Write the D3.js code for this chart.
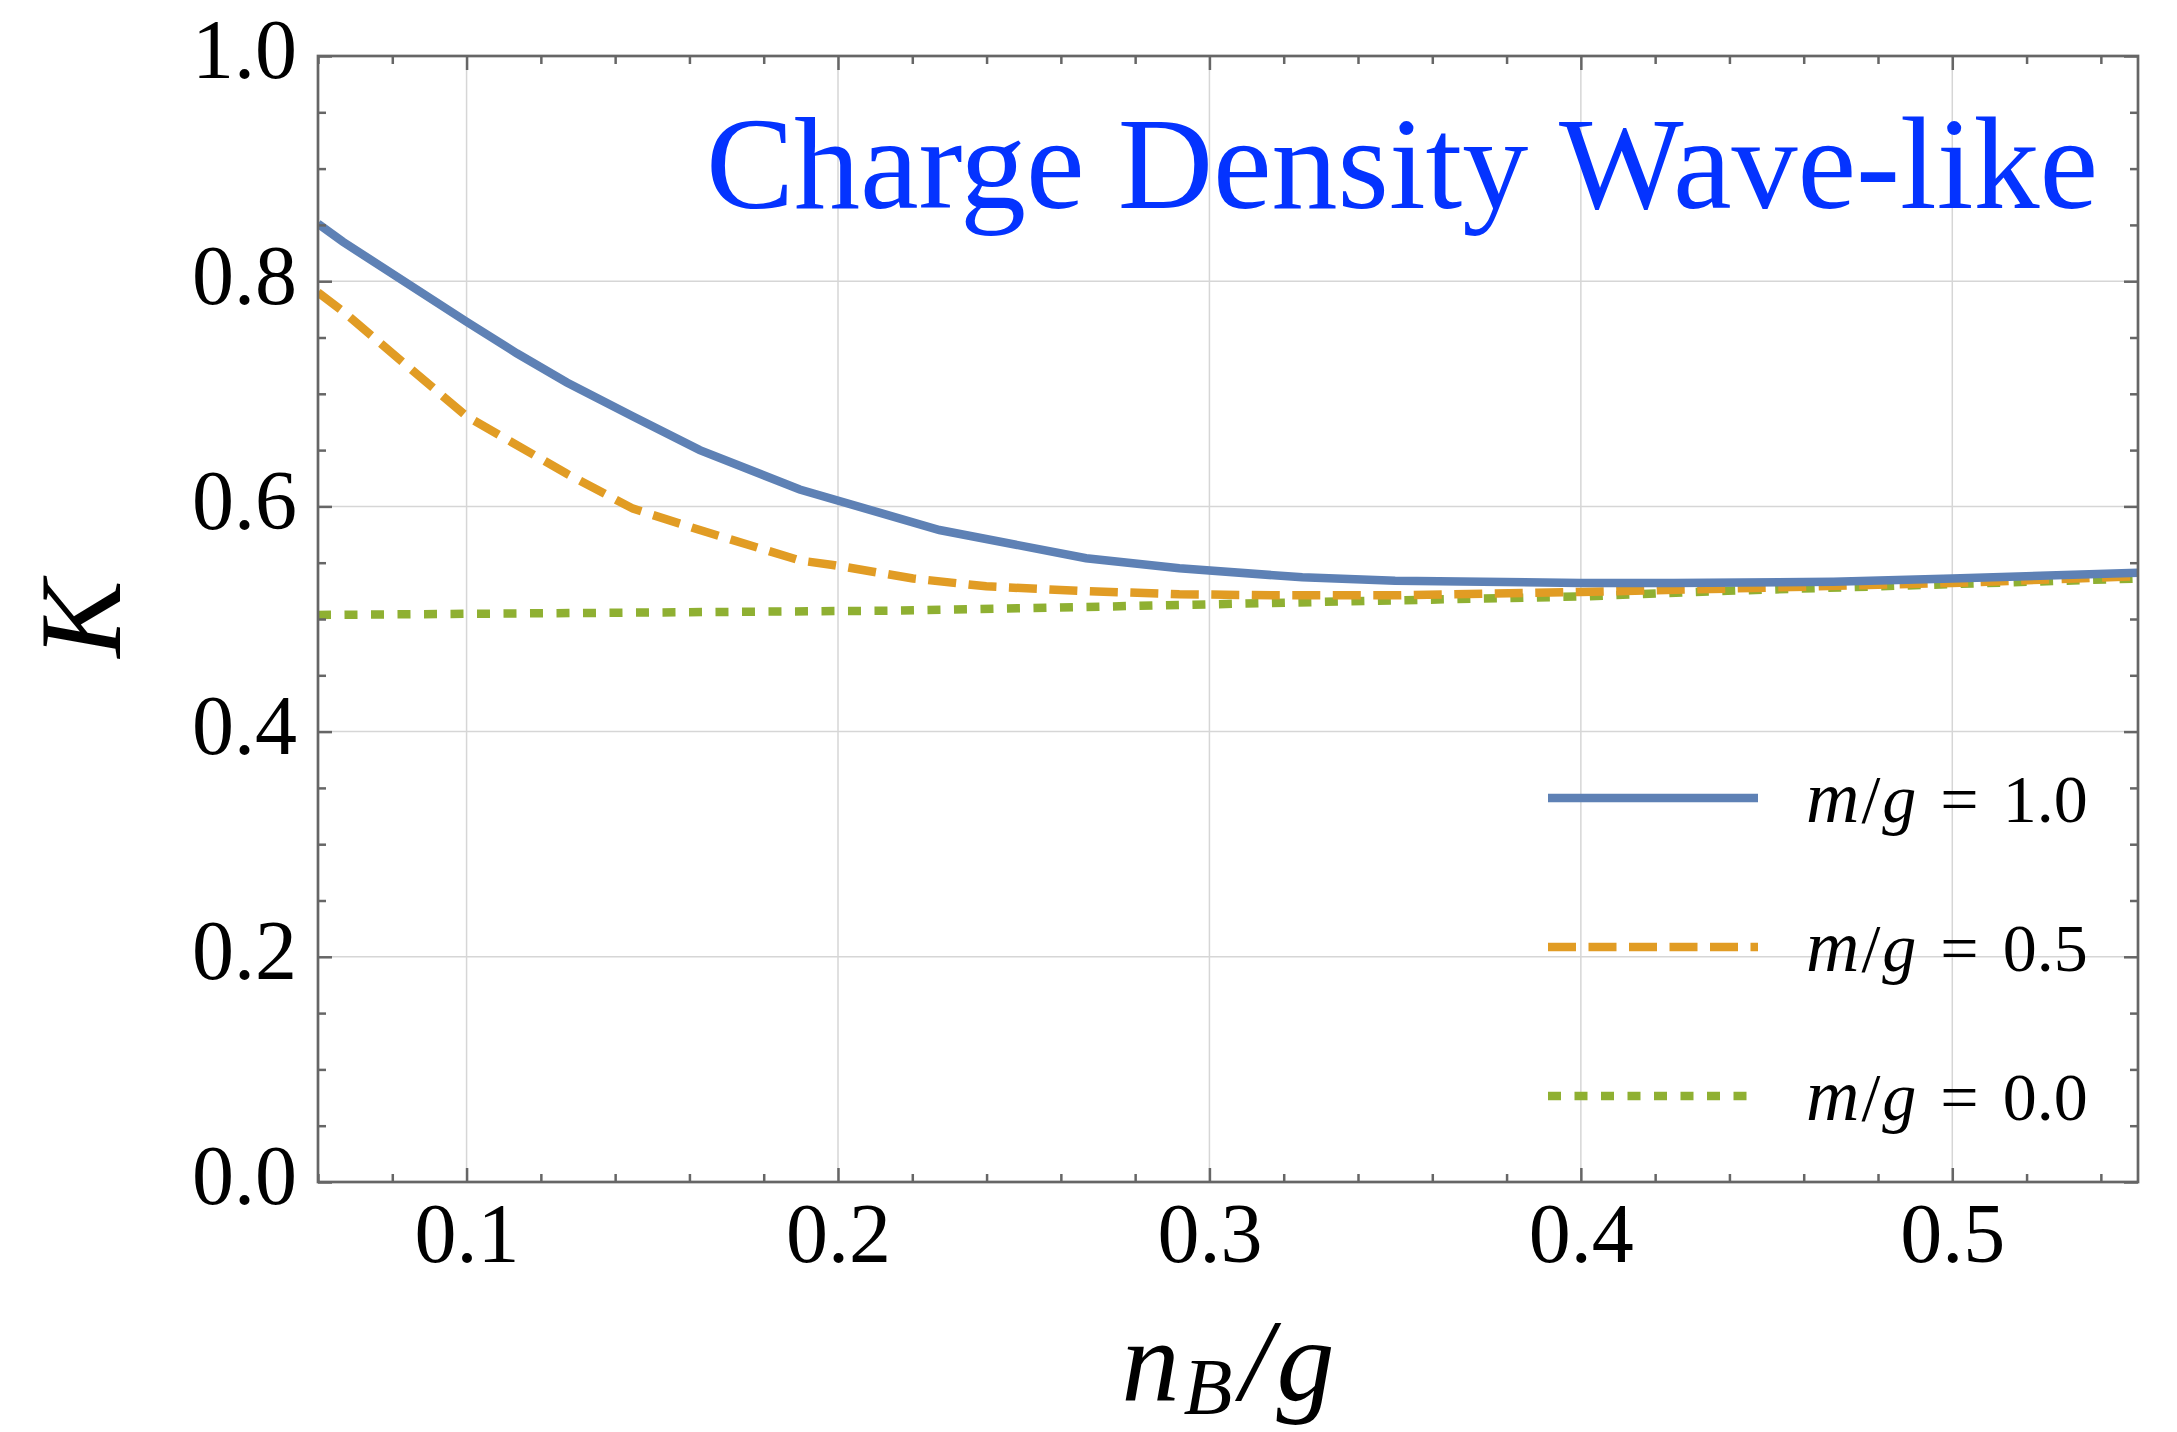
<!DOCTYPE html>
<html>
<head>
<meta charset="utf-8">
<script src="https://cdn.jsdelivr.net/npm/d3@7"></script>
<style>
  body { margin: 0; background: #fff; }
  svg text { font-family: "Liberation Serif", "Times New Roman", serif; }
</style>
</head>
<body>
<div id="chart"></div>
<script>
// values
const nB_m10 = [0.060, 0.0667, 0.100, 0.1135, 0.127, 0.1447, 0.1628, 0.1897, 0.2273, 0.2668, 0.2919, 0.325, 0.350, 0.400, 0.425, 0.468, 0.500, 0.550];
const K_m10  = [0.851, 0.835, 0.764, 0.736, 0.710, 0.680, 0.650, 0.615, 0.579, 0.554, 0.545, 0.537, 0.534, 0.532, 0.532, 0.533, 0.536, 0.541];

const nB_m05 = [0.060, 0.0668, 0.100, 0.127, 0.1448, 0.1628, 0.1897, 0.1986, 0.2202, 0.2399, 0.265, 0.2919, 0.3179, 0.350, 0.400, 0.4395, 0.500, 0.550];
const K_m05  = [0.790, 0.773, 0.680, 0.629, 0.598, 0.579, 0.552, 0.548, 0.536, 0.529, 0.525, 0.522, 0.521, 0.521, 0.524, 0.527, 0.532, 0.538];

const nB_m00 = [0.060, 0.2147, 0.256, 0.2919, 0.3206, 0.400, 0.4395, 0.500, 0.550];
const K_m00  = [0.5036, 0.5074, 0.510, 0.5124, 0.5145, 0.520, 0.525, 0.531, 0.536];

const xTicks = [0.1, 0.2, 0.3, 0.4, 0.5];
const yTicks = [0.0, 0.2, 0.4, 0.6, 0.8, 1.0];
const legendLabels = ["1.0", "0.5", "0.0"];
const titleText = "Charge Density Wave-like";

const W = 2177, H = 1432;
const plot = {left: 318, right: 2138, top: 56, bottom: 1182};

const svg = d3.select("#chart").append("svg")
    .attr("width", W).attr("height", H);
svg.append("rect").attr("width", W).attr("height", H).attr("fill", "#fff");

const x = d3.scaleLinear().domain([0.06, 0.55]).range([plot.left, plot.right]);
const y = d3.scaleLinear().domain([0, 1]).range([plot.bottom, plot.top]);

const xMinor = d3.range(0.06, 0.5501, 0.02).map(v => +v.toFixed(2)).filter(v => xTicks.indexOf(v) < 0);
const yMinor = d3.range(0, 1.0001, 0.05).map(v => +v.toFixed(2)).filter(v => yTicks.indexOf(v) < 0);

// grid
const grid = svg.append("g").attr("stroke", "#d6d6d6").attr("stroke-width", 1.5);
grid.selectAll(".gx").data(xTicks).enter().append("line")
    .attr("x1", d => x(d)).attr("x2", d => x(d))
    .attr("y1", plot.top).attr("y2", plot.bottom);
grid.selectAll(".gy").data(yTicks.filter(d => d > 0 && d < 1)).enter().append("line")
    .attr("y1", d => y(d)).attr("y2", d => y(d))
    .attr("x1", plot.left).attr("x2", plot.right);

// curves
svg.append("clipPath").attr("id", "clip").append("rect")
    .attr("x", plot.left).attr("y", plot.top)
    .attr("width", plot.right - plot.left).attr("height", plot.bottom - plot.top);

const series = [
    {xs: nB_m10, ys: K_m10, color: "#5e81b5", dash: null},
    {xs: nB_m05, ys: K_m05, color: "#e19c24", dash: "28,12.5"},
    {xs: nB_m00, ys: K_m00, color: "#8fb032", dash: "13,13.5"}
];
const line = d3.line().x(d => x(d[0])).y(d => y(d[1]));
const curves = svg.append("g").attr("clip-path", "url(#clip)");
// draw green first, blue on top like the reference
series.slice().reverse().forEach(s => {
    curves.append("path")
        .datum(d3.zip(s.xs, s.ys))
        .attr("d", line)
        .attr("fill", "none")
        .attr("stroke", s.color)
        .attr("stroke-width", 8.5)
        .attr("stroke-dasharray", s.dash);
});

// frame + ticks
const frameColor = "#666";
function styleAxis(g) {
    g.select(".domain").remove();
    g.selectAll(".tick line").attr("stroke", frameColor).attr("stroke-width", 2.5);
}
svg.append("g").attr("transform", "translate(0," + plot.bottom + ")")
    .call(d3.axisBottom(x).tickValues(xTicks).tickSize(-14).tickPadding(20).tickFormat(d3.format(".1f")))
    .call(styleAxis)
    .selectAll("text").attr("font-size", 84).attr("fill", "#000")
    .attr("font-family", "Liberation Serif");
svg.append("g").attr("transform", "translate(0," + plot.bottom + ")")
    .call(d3.axisBottom(x).tickValues(xMinor).tickSize(-8).tickFormat(""))
    .call(styleAxis);
svg.append("g").attr("transform", "translate(0," + plot.top + ")")
    .call(d3.axisTop(x).tickValues(xTicks).tickSize(-14).tickFormat(""))
    .call(styleAxis);
svg.append("g").attr("transform", "translate(0," + plot.top + ")")
    .call(d3.axisTop(x).tickValues(xMinor).tickSize(-8).tickFormat(""))
    .call(styleAxis);
svg.append("g").attr("transform", "translate(" + plot.left + ",0)")
    .call(d3.axisLeft(y).tickValues(yTicks).tickSize(-14).tickPadding(21).tickFormat(d3.format(".1f")))
    .call(styleAxis)
    .selectAll("text").attr("font-size", 84).attr("fill", "#000").attr("dy", "0.26em")
    .attr("font-family", "Liberation Serif");
svg.append("g").attr("transform", "translate(" + plot.left + ",0)")
    .call(d3.axisLeft(y).tickValues(yMinor).tickSize(-8).tickFormat(""))
    .call(styleAxis);
svg.append("g").attr("transform", "translate(" + plot.right + ",0)")
    .call(d3.axisRight(y).tickValues(yTicks).tickSize(-14).tickFormat(""))
    .call(styleAxis);
svg.append("g").attr("transform", "translate(" + plot.right + ",0)")
    .call(d3.axisRight(y).tickValues(yMinor).tickSize(-8).tickFormat(""))
    .call(styleAxis);

svg.append("rect")
    .attr("x", plot.left).attr("y", plot.top)
    .attr("width", plot.right - plot.left).attr("height", plot.bottom - plot.top)
    .attr("fill", "none").attr("stroke", frameColor).attr("stroke-width", 2.7);

// title
svg.append("text")
    .attr("x", 2098).attr("y", 208)
    .attr("text-anchor", "end")
    .attr("font-size", 132)
    .attr("fill", "#0433ff")
    .text(titleText);

// axis labels
const xl = svg.append("text")
    .attr("x", (plot.left + plot.right) / 2).attr("y", 1400)
    .attr("text-anchor", "middle")
    .attr("font-size", 116).attr("font-style", "italic").attr("fill", "#000");
xl.append("tspan").text("n");
xl.append("tspan").attr("font-size", 80).attr("dy", 14).attr("dx", 4).text("B");
xl.append("tspan").attr("dy", -14).attr("dx", 8).text("/");
xl.append("tspan").attr("dx", 4).text("g");

svg.append("text")
    .attr("transform", "translate(120," + ((plot.top + plot.bottom) / 2) + ") rotate(-90)")
    .attr("text-anchor", "middle")
    .attr("font-size", 116).attr("font-style", "italic").attr("fill", "#000")
    .text("K");

// legend
const legend = svg.append("g");
const rowY = [798, 947, 1096];
series.forEach((s, i) => {
    legend.append("line")
        .attr("x1", 1548).attr("x2", 1758)
        .attr("y1", rowY[i]).attr("y2", rowY[i])
        .attr("stroke", s.color).attr("stroke-width", 8.5)
        .attr("stroke-dasharray", s.dash);
    const t = legend.append("text")
        .attr("x", 1806).attr("y", rowY[i] + 24)
        .attr("font-size", 68).attr("fill", "#000");
    t.append("tspan").attr("font-style", "italic").attr("font-size", 74).text("m");
    t.append("tspan").attr("dx", 2).text("/");
    t.append("tspan").attr("dx", 2).attr("font-style", "italic").text("g");
    t.append("tspan").attr("dx", 24).text("=");
    t.append("tspan").attr("dx", 24).text(legendLabels[i]);
});
</script>
</body>
</html>
